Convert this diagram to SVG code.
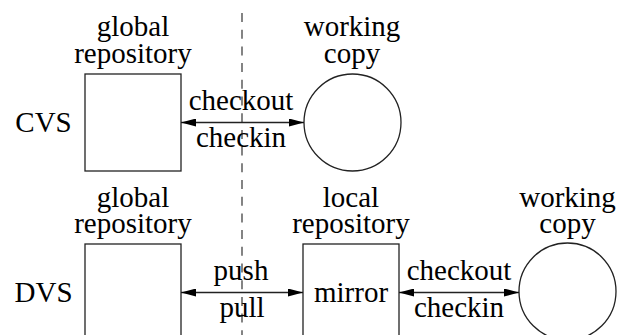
<svg xmlns="http://www.w3.org/2000/svg" width="617" height="335" viewBox="0 0 617 335">
<defs>
<marker id="ah" viewBox="0 0 15 8" refX="15" refY="4" markerWidth="15" markerHeight="8" markerUnits="userSpaceOnUse" orient="auto-start-reverse">
<path d="M0,0 L15,4 L0,8 Z" fill="#000"/>
</marker>
</defs>
<rect width="617" height="335" fill="#fff"/>
<line x1="242" y1="13" x2="242" y2="335" fill="none" stroke="#333" stroke-width="1.2" stroke-dasharray="9 7.7"/>
<text font-family="Liberation Serif" font-size="29" x="15.3" y="132">CVS</text>
<text font-family="Liberation Serif" font-size="29" x="14.5" y="302">DVS</text>
<g id="cvs-global">
<text font-family="Liberation Serif" font-size="29" x="96.8" y="36">global</text>
<text font-family="Liberation Serif" font-size="29" x="74.2" y="63">repository</text>
<rect x="85" y="74" width="96" height="97" fill="none" stroke="#222" stroke-width="1.3"/>
</g>
<g id="cvs-working">
<text font-family="Liberation Serif" font-size="29" x="303.7" y="36">working</text>
<text font-family="Liberation Serif" font-size="29" x="323.8" y="63">copy</text>
<circle cx="352.5" cy="122.5" r="48.5" fill="none" stroke="#222" stroke-width="1.3"/>
</g>
<g id="dvs-global">
<text font-family="Liberation Serif" font-size="29" x="96.8" y="207">global</text>
<text font-family="Liberation Serif" font-size="29" x="74.2" y="233">repository</text>
<rect x="85" y="244" width="96" height="100" fill="none" stroke="#222" stroke-width="1.3"/>
</g>
<g id="dvs-local">
<text font-family="Liberation Serif" font-size="29" x="322.8" y="207">local</text>
<text font-family="Liberation Serif" font-size="29" x="292.2" y="233">repository</text>
<rect x="303" y="244" width="96" height="100" fill="none" stroke="#222" stroke-width="1.3"/>
<text font-family="Liberation Serif" font-size="29" x="314" y="302">mirror</text>
</g>
<g id="dvs-working">
<text font-family="Liberation Serif" font-size="29" x="519.2" y="207">working</text>
<text font-family="Liberation Serif" font-size="29" x="539.3" y="233">copy</text>
<circle cx="567.5" cy="291.5" r="48.5" fill="none" stroke="#222" stroke-width="1.3"/>
</g>
<g id="connectors">
<line x1="181" y1="122.5" x2="304" y2="122.5" stroke="#222" stroke-width="1.3" marker-start="url(#ah)" marker-end="url(#ah)"/>
<text font-family="Liberation Serif" font-size="29" x="188.7" y="110">checkout</text>
<text font-family="Liberation Serif" font-size="29" x="195.9" y="147">checkin</text>
<line x1="181" y1="292.5" x2="303" y2="292.5" stroke="#222" stroke-width="1.3" marker-start="url(#ah)" marker-end="url(#ah)"/>
<text font-family="Liberation Serif" font-size="29" x="213.6" y="280">push</text>
<text font-family="Liberation Serif" font-size="29" x="219.4" y="317">pull</text>
<line x1="399" y1="292.5" x2="519" y2="292.5" stroke="#222" stroke-width="1.3" marker-start="url(#ah)" marker-end="url(#ah)"/>
<text font-family="Liberation Serif" font-size="29" x="406.7" y="280">checkout</text>
<text font-family="Liberation Serif" font-size="29" x="413.9" y="317">checkin</text>
</g>
</svg>
